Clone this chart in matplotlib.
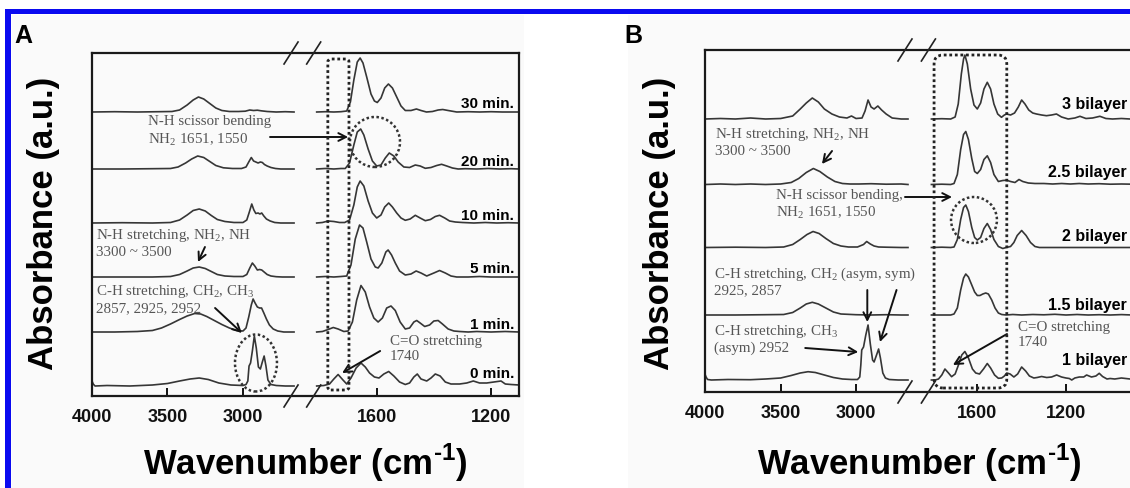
import matplotlib
matplotlib.use("Agg")
import matplotlib.pyplot as plt
import numpy as np
from matplotlib.patches import Ellipse, Rectangle, FancyBboxPatch
from matplotlib.lines import Line2D
from matplotlib.transforms import IdentityTransform, blended_transform_factory

plt.rcParams['font.family'] = ['Liberation Sans', 'DejaVu Sans']
plt.rcParams['mathtext.fontset'] = 'custom'
plt.rcParams['mathtext.rm'] = 'Liberation Serif'
plt.rcParams['mathtext.bf'] = 'Liberation Sans:bold'

# ---------------- data: panel A (spectra vs. time) ----------------
a_labels = ['0 min.', '1 min.', '5 min.', '10 min.', '20 min.', '30 min.']

a0_w = [4000, 3992, 3980, 3900, 3750, 3600, 3500, 3420, 3350, 3290, 3230, 3160, 3080, 3000, 2980, 2968, 2960, 2950,
        2938, 2925, 2912, 2898, 2885, 2872, 2860, 2848, 2835, 2815, 2780, 2720, 2662,
        1810, 1785, 1765, 1750, 1735, 1718, 1705, 1690, 1672, 1655, 1640, 1625, 1608, 1592, 1575, 1558, 1540, 1520,
        1500, 1485, 1470, 1458, 1445, 1425, 1410, 1395, 1378, 1360, 1340, 1310, 1285, 1262, 1240, 1215, 1190, 1165,
        1150, 1130, 1102]
a0_h = [5, 2, 0, 0.5, 0, 1, 2.5, 5, 7, 8, 6.5, 3, 1, 0.5, 1.5, 5, 20, 23, 35, 50, 38, 19, 17, 24, 30, 20, 6, 1.5,
        0.5, 0, 0,
        0, 0.5, 2, 7, 11.5, 6, 2, 8, 18, 23, 19, 13, 9, 8, 12, 14.5, 10, 4, 1.5, 3, 9, 12, 7, 5, 8, 12, 10, 4, 2, 2,
        3, 5, 3, 3, 4, 5, 2, 1.5, 1]

a1_w = [4000, 3850, 3700, 3600, 3540, 3480, 3420, 3370, 3320, 3280, 3240, 3190, 3140, 3090, 3040, 3000, 2980, 2962,
        2945, 2933, 2920, 2905, 2890, 2877, 2862, 2845, 2825, 2800, 2770, 2730, 2662,
        1810, 1790, 1770, 1752, 1735, 1715, 1700, 1685, 1670, 1655, 1640, 1625, 1610, 1595, 1580, 1565, 1550, 1535,
        1518, 1500, 1485, 1470, 1460, 1448, 1432, 1415, 1400, 1385, 1370, 1350, 1330, 1310, 1280, 1250, 1200, 1150,
        1102]
a1_h = [0, 0, 0.5, 1.5, 4, 8, 12.5, 16, 18.5, 18, 15.5, 11.5, 7.5, 4, 1.5, 1, 4, 15, 27, 33, 29, 25, 24, 24, 19, 13,
        7, 3, 1, 0, 0,
        0, 0.5, 2.5, 4.5, 3, 0.5, 1, 10, 32, 46.5, 40, 25, 14, 10, 14, 24, 26, 21.5, 10, 3, 4, 10, 11.5, 9, 5.5, 7,
        11, 11.5, 8, 3, 1, 0.5, 0, 0.5, 0, 0.5, 0]

a5_w = [4000, 3800, 3600, 3480, 3420, 3370, 3330, 3290, 3250, 3210, 3170, 3120, 3060, 3000, 2975, 2955, 2938, 2922,
        2905, 2890, 2876, 2860, 2840, 2815, 2780, 2740, 2662,
        1810, 1780, 1750, 1725, 1705, 1690, 1675, 1660, 1648, 1635, 1620, 1605, 1595, 1582, 1568, 1560, 1548, 1535,
        1520, 1500, 1480, 1462, 1445, 1425, 1400, 1380, 1360, 1340, 1320, 1280, 1240, 1200, 1150, 1102]
a5_h = [0, 0, 0, 0.5, 2.5, 6, 9, 10, 8.5, 5.5, 2.5, 1, 0.5, 0.5, 2.5, 9, 14, 11, 7, 7.5, 7, 5, 2.5, 1, 0.3, 0, 0,
        0, 0.5, 0, 0.5, 1, 12, 38, 52, 49, 35, 18, 10, 9, 14, 25, 27, 22, 14, 6, 2, 3, 6, 4, 1, 4, 6.5, 4, 1, 0, 0,
        0.5, 0, 0, 0]

a10_w = [4000, 3800, 3600, 3480, 3420, 3370, 3330, 3290, 3250, 3210, 3170, 3120, 3060, 3000, 2975, 2958, 2942, 2928,
         2915, 2900, 2888, 2876, 2862, 2845, 2820, 2790, 2750, 2662,
         1810, 1790, 1770, 1750, 1730, 1712, 1695, 1680, 1668, 1658, 1645, 1630, 1615, 1600, 1585, 1572, 1558, 1545,
         1530, 1515, 1500, 1483, 1465, 1448, 1430, 1412, 1395, 1380, 1362, 1345, 1325, 1300, 1260, 1220, 1180, 1140,
         1102]
a10_h = [0, 0.3, 0, 0.5, 3, 8, 12.5, 14, 12, 7.5, 3.5, 1.5, 0.5, 0.5, 3, 11, 19, 13, 9.5, 10, 9, 10, 7, 4, 2, 0.5,
         0, 0,
         0, 0.5, 2, 1.5, 0.5, 0.5, 3, 18, 36, 42, 37, 22, 10, 5, 8, 16, 20, 16, 10, 5, 2.7, 4, 7.7, 5, 2.3, 3.5, 6.5,
         7.7, 5, 2, 1, 0.5, 0, 0.5, 0, 0.3, 0]

a20_w = [4000, 3800, 3600, 3480, 3430, 3380, 3340, 3300, 3260, 3220, 3180, 3130, 3070, 3010, 2980, 2962, 2945, 2930,
         2915, 2900, 2885, 2872, 2858, 2840, 2815, 2785, 2750, 2662,
         1810, 1780, 1750, 1725, 1710, 1695, 1680, 1668, 1656, 1645, 1630, 1615, 1600, 1585, 1570, 1556, 1540, 1525,
         1505, 1485, 1465, 1448, 1430, 1410, 1390, 1373, 1355, 1335, 1315, 1290, 1250, 1210, 1170, 1130, 1102]
a20_h = [0, 0, 0.3, 0.5, 2, 6, 10, 13, 11.5, 7.5, 3.5, 1.2, 0.5, 0.5, 2, 7, 11.5, 8, 7, 6, 7, 6.5, 4.5, 3, 1.5, 0.5,
         0, 0,
         0, 0.5, 0, 0.5, 0.5, 6, 24, 37, 40, 34, 20, 8, 3, 4, 11, 16, 13, 7, 2, 1.5, 4, 3, 0.7, 1.5, 3.5, 4.7, 3, 1,
         0, 0.3, 0, 0.5, 0, 0.3, 0]

a30_w = [4000, 3850, 3700, 3560, 3470, 3420, 3370, 3330, 3295, 3260, 3220, 3180, 3140, 3090, 3030, 2985, 2955, 2930,
         2905, 2880, 2840, 2780, 2720, 2662,
         1810, 1780, 1750, 1725, 1705, 1692, 1680, 1668, 1658, 1648, 1635, 1620, 1608, 1598, 1585, 1572, 1559, 1545,
         1530, 1515, 1500, 1480, 1461, 1445, 1426, 1405, 1385, 1369, 1350, 1320, 1280, 1240, 1200, 1160, 1102]
a30_h = [0, 0.3, 0, 0.3, 0.5, 2, 7, 12, 15, 13, 8.5, 4, 1.5, 0.5, 0.5, 0.8, 2, 1.5, 1.8, 1.2, 0.5, 0, 0.3, 0,
         0, 0.3, 0, 0.3, 1, 10, 32, 50, 54, 49, 35, 18, 11, 9.5, 14, 24, 28, 24, 15, 6, 1.5, 1.5, 3, 1.5, 0, 0.5, 2,
         2.5, 1.5, 0, 0.3, 0, 0.3, 0, 0]

# ---------------- data: panel B (spectra vs. bilayers) ----------------
b_labels = ['1 bilayer', '1.5 bilayer', '2 bilayer', '2.5 bilayer', '3 bilayer']

b10_w = [4000, 3995, 3985, 3960, 3850, 3700, 3600, 3500, 3430, 3370, 3318, 3270, 3210, 3150, 3090, 3030, 2990, 2975,
         2968, 2962, 2950, 2935, 2920, 2905, 2890, 2880, 2866, 2850, 2838, 2822, 2805, 2780, 2720, 2655,
         1807, 1790, 1775, 1760, 1746, 1730, 1716, 1700, 1685, 1670, 1656, 1640, 1622, 1607, 1590, 1572, 1555, 1540,
         1522, 1505, 1490, 1478, 1467, 1452, 1435, 1418, 1400, 1382, 1365, 1345, 1330, 1310, 1287, 1265, 1242, 1220,
         1200, 1185, 1174, 1160, 1140, 1120, 1107, 1085, 1065, 1050, 1035, 1015, 1001, 980, 950, 911, 800]
b10_h = [5, 3, 0.5, 0, 0.5, 0.3, 1, 2, 4.5, 7, 8.3, 7.5, 5, 2.5, 1, 0.5, 0.5, 3, 15, 30, 33, 45, 55, 36, 20, 18, 24,
         31, 22, 7, 2, 0.5, 0, 0,
         0, 0, 1, 5, 11, 7, 3.3, 6, 15, 25, 28.5, 22, 11, 7, 6, 11, 16.5, 12, 5, 1.7, 2, 4, 7, 6, 3, 6, 13, 9, 4, 2,
         2.5, 3.5, 2.5, 3, 5, 3, 2, 1.5, 0, 2, 3, 3, 5, 3, 4, 6.7, 3.5, 1, 1.5, 1, 2, 1, 1]

b15_w = [4000, 3800, 3600, 3480, 3420, 3370, 3330, 3290, 3250, 3200, 3150, 3100, 3000, 2900, 2800, 2700, 2655,
         1807, 1760, 1720, 1705, 1690, 1675, 1662, 1652, 1640, 1625, 1612, 1600, 1588, 1575, 1562, 1550, 1535, 1520,
         1505, 1490, 1470, 1440, 1400, 1350, 1300, 1250, 1200, 1150, 1100, 1050, 1000, 950, 900, 800]
b15_h = [0, 0, 0.3, 0.5, 2.5, 7, 11, 12.7, 11, 7, 3, 1, 0.3, 0, 0.3, 0, 0,
         0, 0, 0, 1, 7, 25, 37, 41, 38, 30, 23, 19.5, 19.5, 21, 22, 21, 15, 7, 2, 0.5, 0, 0.5, 0, 0.5, 0.2, 0.7, 0,
         0.5, 0, 0.3, 0, 0.4, 0, 0]

b20_w = [4000, 3800, 3600, 3480, 3420, 3370, 3325, 3285, 3245, 3200, 3150, 3100, 3050, 2990, 2950, 2929, 2905, 2880,
         2850, 2800, 2700, 2655,
         1807, 1760, 1720, 1705, 1690, 1675, 1662, 1652, 1640, 1625, 1612, 1600, 1585, 1570, 1555, 1540, 1525, 1505,
         1485, 1470, 1450, 1435, 1420, 1400, 1380, 1360, 1340, 1320, 1280, 1200, 1100, 1000, 900, 800]
b20_h = [0, 0.3, 0, 0.5, 3, 8, 13, 16, 14, 9, 4, 1.5, 0.5, 0.5, 3, 6, 3.5, 1.5, 0.5, 0.3, 0, 0,
         0, 0.3, 0, 0.5, 8, 28, 40, 42.5, 36, 20, 10, 7.5, 10, 19, 24, 18, 8, 1, -1, 0, 1, 5, 12, 17, 12, 5, 1, 0, 0,
         0, 0, 0, 0, 0]

b25_w = [4000, 3900, 3800, 3700, 3600, 3500, 3430, 3380, 3330, 3283, 3240, 3190, 3140, 3090, 3040, 2980, 2900, 2800,
         2700, 2655,
         1807, 1760, 1720, 1705, 1690, 1675, 1662, 1652, 1640, 1625, 1612, 1600, 1585, 1570, 1555, 1540, 1525, 1505,
         1485, 1468, 1450, 1430, 1412, 1395, 1370, 1340, 1300, 1260, 1220, 1180, 1140, 1100, 1050, 1000, 950, 900, 800]
b25_h = [0, 0.5, 0, 0.5, 0, 0.5, 2, 6, 12, 16, 13, 7.5, 3, 1, 0.5, 0.5, 0.8, 0.3, 0.5, 0,
         0, 0.3, 0, 1, 10, 35, 50, 53, 45, 26, 13, 11, 15, 25, 28.7, 22, 10, 3, 4, 4.3, 3, 2, 5, 3, 1.5, 1, 1, 0.5,
         1, 0.5, 1, 0.5, 0.8, 0.3, 0.5, 0.3, 0.3]

b30_w = [4000, 3900, 3800, 3700, 3600, 3500, 3420, 3370, 3330, 3290, 3250, 3210, 3160, 3110, 3060, 3030, 3000, 2960,
         2940, 2920, 2900, 2880, 2855, 2830, 2800, 2760, 2700, 2655,
         1807, 1760, 1720, 1700, 1686, 1672, 1662, 1656, 1645, 1630, 1615, 1600, 1585, 1570, 1555, 1540, 1525, 1508,
         1491, 1478, 1468, 1450, 1432, 1415, 1400, 1385, 1368, 1350, 1333, 1310, 1288, 1265, 1243, 1220, 1190, 1160,
         1137, 1110, 1080, 1047, 1020, 990, 950, 911, 800]
b30_h = [0, 0.5, 0, 1, 0, 0.5, 3, 10, 16, 21, 17, 10, 5, 2, 1, 3, 0.5, 1, 8, 19, 12, 10, 13, 9, 5, 1, 0, 0,
         0, 0.3, 0, 2, 15, 45, 60, 64, 55, 30, 14, 10, 16, 30, 36.7, 30, 15, 5, 1.7, 4, 5, 4, 6, 12, 19, 15, 9, 6,
         5, 4, 3.3, 4, 5, 2, 0, 1, 2.7, 0.5, 1, 2.7, 0.5, 0, 0.5, 0, 0]

ticks = [4000, 3500, 3000, 1600, 1200]

# ---------------- layout ----------------
W, H = 1130, 488
fig = plt.figure(figsize=(W / 100, H / 100), dpi=100)
fig.patch.set_facecolor('white')
SERIF = 'Liberation Serif'
LINE = '#363636'


def px_rect(x0, y0, x1, y1, **kw):
    # rectangle given in image pixels (origin top-left)
    r = Rectangle((x0, H - y1), x1 - x0, y1 - y0, transform=IdentityTransform(), **kw)
    fig.add_artist(r)


# light panel backgrounds and blue frame
px_rect(12, 15, 524, 488, facecolor='#fafafa', edgecolor='none', zorder=-5)
px_rect(628, 15, 1130, 488, facecolor='#fafafa', edgecolor='none', zorder=-5)
px_rect(5, 9, 1130, 14, facecolor='#0a0af0', edgecolor='none', zorder=-4)
px_rect(5, 9, 11, 488, facecolor='#0a0af0', edgecolor='none', zorder=-4)


def broken_scale(x4000, sl, x1600, sr, wl_end, wr_start):
    w_pts = [0, wr_start, wl_end, 8000]
    x_pts = [x1600 + 1600 * sr, x1600 - (wr_start - 1600) * sr,
             x4000 + (4000 - wl_end) * sl, x4000 - 4000 * sl]
    u_pts = [-v for v in x_pts]

    def fwd(w):
        return np.interp(w, w_pts, u_pts)

    def inv(u):
        return np.interp(u, u_pts, w_pts)
    return fwd, inv


def make_panel(x4000, sl, x1600, sr, wl_end, wr_start, wmin, top, bottom):
    xr = x1600 + (1600 - wmin) * sr
    ax = fig.add_axes([x4000 / W, 1 - bottom / H, (xr - x4000) / W, (bottom - top) / H])
    ax.set_facecolor('none')
    ax.set_xscale('function', functions=broken_scale(x4000, sl, x1600, sr, wl_end, wr_start))
    ax.set_xlim(4000, wmin)
    ax.set_ylim(0, bottom - top)
    ax.set_xticks(ticks)
    ax.set_xticklabels([str(t) for t in ticks], fontsize=13, fontweight='bold')
    ax.set_yticks([])
    ax.tick_params(axis='x', direction='in', length=6, width=1.4, pad=9, colors='#111111')
    for s in ax.spines.values():
        s.set_linewidth(1.6)
        s.set_color('#1a1a1a')
    return ax


def draw_spectrum(ax, w, h, off):
    w = np.asarray(w, float)
    h = np.asarray(h, float)
    for m in (w > 2200, w < 2200):
        ax.plot(w[m], h[m] + off, color=LINE, lw=1.2, solid_joinstyle='round')


def note(ax, w, y, txt):
    ax.text(w, y, txt, ha='left', va='center', family=SERIF, fontsize=10.8,
            color='#555555', linespacing=1.2)


def arrow(ax, tail, head):
    ax.annotate('', xy=head, xytext=tail,
                arrowprops=dict(arrowstyle='->,head_length=0.55,head_width=0.28', lw=1.4,
                                color='#111111', shrinkA=0, shrinkB=0))


def slashes(ax, w_left, w_right):
    for w in (w_left, w_right):
        x = ax.transData.transform((w, 0))[0] - 3
        for yf in (0, 1):
            y = ax.transAxes.transform((0, yf))[1]
            fig.add_artist(Line2D([x - 7, x + 7], [y - 11, y + 11], color='#222222', lw=1.2,
                                  transform=IdentityTransform()))


def dotted_box(ax, w0, y0, w1, y1, rad):
    (xa, ya), (xb, yb) = ax.transData.transform([(w0, y0), (w1, y1)])
    fig.add_artist(FancyBboxPatch((xa, yb), xb - xa, ya - yb,
                                  boxstyle='round,pad=0,rounding_size=%g' % rad,
                                  transform=IdentityTransform(), fill=False,
                                  ec='#222222', lw=2, ls=(0, (1, 1))))


def dotted_ellipse(ax, w, y, ww, hh):
    ax.add_patch(Ellipse((w, y), ww, hh, fill=False, ec='#333333', lw=1.8, ls=(0, (1, 1))))


# ================= panel A =================
axA = make_panel(92, 0.151, 376.7, 0.2858, 2662, 1810, 1102, 53, 396)
a_off = [10, 64, 119, 173, 227, 284]
a_dy = [8, 3, 4, 3, 3, 4]
for (w, h), off, lab, dy in zip([(a0_w, a0_h), (a1_w, a1_h), (a5_w, a5_h), (a10_w, a10_h),
                                 (a20_w, a20_h), (a30_w, a30_h)], a_off, a_labels, a_dy):
    draw_spectrum(axA, w, h, off)
    axA.text(0.988, off + dy, lab, transform=blended_transform_factory(axA.transAxes, axA.transData),
             ha='right', va='baseline', fontsize=11, fontweight='bold')

note(axA, 3629, 264.5, 'N-H scissor bending\nNH$_2$ 1651, 1550')
arrow(axA, (2821, 259), (1700, 259))
dotted_ellipse(axA, 1606, 254, 175, 50)
note(axA, 3974, 153.5, 'N-H stretching, NH$_2$, NH\n3300 ~ 3500')
arrow(axA, (3252, 149), (3298, 134))
note(axA, 3974, 97, 'C-H stretching, CH$_2$, CH$_3$\n2857, 2925, 2952')
arrow(axA, (3185, 88), (3007, 63))
dotted_ellipse(axA, 2914, 33, 278, 57)
note(axA, 1553, 46.5, 'C=O stretching\n1740')
arrow(axA, (1588, 45), (1721, 23))
dotted_box(axA, 1771, 337, 1697, 6, 3)
slashes(axA, 2662, 1810)

# ================= panel B =================
axB = make_panel(705.3, 0.1507, 977.3, 0.2217, 2655, 1807, 800, 50, 392)
b_off = [12, 77, 144.5, 207.5, 273]
b_dy = [15, 5, 7, 8, 10]
for (w, h), off, lab, dy in zip([(b10_w, b10_h), (b15_w, b15_h), (b20_w, b20_h), (b25_w, b25_h),
                                 (b30_w, b30_h)], b_off, b_labels, b_dy):
    draw_spectrum(axB, w, h, off)
    axB.text(0.938, off + dy, lab, transform=blended_transform_factory(axB.transAxes, axB.transData),
             ha='right', va='baseline', fontsize=11.5, fontweight='bold')

note(axB, 3936, 250, 'N-H stretching, NH$_2$, NH\n3300 ~ 3500')
arrow(axB, (3159, 241), (3226, 228))
note(axB, 3529, 187, 'N-H scissor bending,\nNH$_2$ 1651, 1550')
arrow(axB, (2675, 195), (1714, 195))
dotted_ellipse(axB, 1615, 172, 207, 46)
note(axB, 3944, 110.5, 'C-H stretching, CH$_2$ (asym, sym)\n2925, 2857')
arrow(axB, (2925, 102), (2925, 70))
arrow(axB, (2731, 102), (2841, 50))
note(axB, 3944, 53, 'C-H stretching, CH$_3$\n(asym) 2952')
arrow(axB, (3337, 44), (2985, 40))
note(axB, 1416, 56.5, 'C=O stretching\n1740')
arrow(axB, (1466, 58), (1710, 27))
dotted_box(axB, 1795, 337, 1467, 4, 9)
slashes(axB, 2655, 1807)

# ---------------- panel letters and axis titles ----------------
fig.text(14 / W, 1 - 43 / H, 'A', fontsize=18, fontweight='bold', va='baseline')
fig.text(624 / W, 1 - 43 / H, 'B', fontsize=18, fontweight='bold', va='baseline')
for xc in (44, 659):
    fig.text(xc / W, 1 - 223 / H, 'Absorbance (a.u.)', rotation=90, ha='center', va='center',
             fontsize=25, fontweight='bold')
for xc in (305, 919):
    fig.text(xc / W, 1 - 475 / H, 'Wavenumber (cm$^{\\mathbf{\u2010}\\mathbf{1}}$)', ha='center',
             va='baseline', fontsize=25, fontweight='bold')

fig.savefig('out.png', dpi=100)
